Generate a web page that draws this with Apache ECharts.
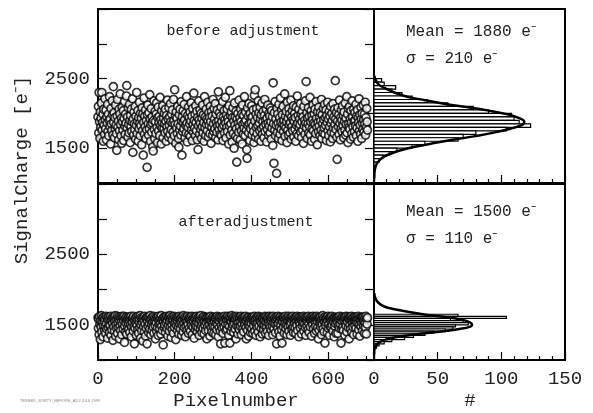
<!DOCTYPE html>
<html><head><meta charset="utf-8">
<script src="https://cdn.jsdelivr.net/npm/echarts@6/dist/echarts.min.js"></script>
<style>html,body{margin:0;padding:0;background:#fff}#c{width:593px;height:413px}</style>
</head><body><div id="c"></div>
<script>
// Signal charge per pixel (index = pixel number), before adjustment [e-]
const beforeValues = [
1950,2100,1720,2300,1880,1640,2020,1800,1930,2150,2300,1760,1870,1990,1600,2060,
1830,1700,2210,1910,1780,2050,1620,1950,1860,2130,1740,1990,1680,1900,2240,1810,
1920,1560,2070,1850,1750,2180,1980,1690,2384,1870,2010,1650,1940,1780,2120,1830,
1710,1470,1960,2200,1800,1890,1620,2060,1750,1990,2280,1840,1680,1930,1570,2090,
1880,1760,2040,1610,1930,2170,1820,1700,1990,1860,2250,2400,1790,1950,1660,2080,
1840,1720,2130,1900,1580,1970,1810,2060,1740,1880,2210,1440,1920,1690,2020,1850,
1770,2100,1630,1960,1830,2300,1710,1890,2040,1600,1940,1780,2160,1860,1680,2000,
1820,1930,1550,2080,1750,1990,1400,1870,2220,1700,1960,1810,2050,1640,1900,1760,
1225,1980,2120,1850,1690,2010,1780,2270,1920,1600,1840,2070,1730,1950,1860,1520,
1460,1900,2180,1770,1640,2030,1880,1710,1990,2150,1800,1580,1940,2090,1750,1870,
1960,1680,2230,1820,1910,1560,2040,1790,1870,2110,1650,1930,1780,2000,1850,1720,
2060,1890,1600,1970,1810,2190,1740,1920,1660,2080,1830,1950,1700,2140,1880,1770,
1990,1620,2050,1860,1730,2200,1900,1680,2340,1840,1960,1570,2020,1790,1930,1710,
2100,1850,1640,1515,1980,1760,2060,1820,1690,2170,1890,1400,1950,1740,2040,1870,
1780,2130,1910,1650,2000,1830,1720,2240,1860,1590,1970,1800,2090,1700,1940,1850,
2020,1670,1890,2150,1760,1960,1610,2070,1840,1730,2290,1900,1790,1990,1680,2110,
1870,1750,2030,1620,1940,1480,1820,2180,1910,1700,2050,1860,1770,2000,1640,1930,
1810,2120,1720,1980,1870,1600,2240,1790,1950,1680,2060,1840,1920,1750,2160,1890,
1660,2010,1830,1940,1710,2100,1880,1570,2030,1800,1960,1690,2200,1850,1740,2070,
1920,1780,2140,1650,1990,1870,1730,2050,1820,1620,2310,1900,1770,2010,1840,1700,
1960,2090,1680,1880,1790,2170,1610,1950,1830,2040,1720,1910,2230,1860,1650,1980,
1800,2060,1740,1930,1880,1560,2110,1820,2326,1690,1970,1850,2020,1760,1590,1940,
2080,1710,1890,1500,2150,1830,1950,1670,2030,1780,1300,1920,1640,2000,1860,1730,
2190,1810,1940,1620,2060,1880,1750,1990,1560,2120,1840,1700,1970,1790,2240,1870,
1680,2020,1900,1760,1480,1355,2080,1830,1960,1720,2140,1850,1610,2000,1780,1930,
1870,2110,1690,1950,1820,2050,1740,1580,2260,1890,2340,1660,1990,1800,2070,1710,
1940,1830,2180,1630,2010,1860,1750,2090,1920,1600,1980,1780,2150,1700,1880,2030,
1810,1650,1970,2200,1740,1900,1840,2060,1590,1930,1770,2120,1860,1690,2000,1820,
1960,1720,2080,1880,1630,2040,1790,1950,1540,2440,1850,1283,2010,1760,2170,1680,
1920,1830,1138,2070,1730,1990,1860,1640,2130,1800,1940,1700,2220,1870,1770,2050,
1610,1980,1850,2100,1740,1900,1820,2280,1670,1960,1790,2030,1880,1580,2160,1760,
1930,1690,2070,1840,1990,1720,1870,2190,1630,1950,1810,2040,1750,1910,2110,1660,
1880,2000,1770,1940,1600,2090,1830,1710,2250,1860,1970,1680,2060,1790,1920,1840,
2140,1730,1990,1650,1880,2030,1760,1950,1570,2100,1820,1900,1700,2180,1860,2457,
1790,2010,1640,1930,1850,2080,1720,1960,1810,2230,1690,1880,2040,1600,1970,1780,
1910,2120,1750,1860,1990,1630,2060,1840,1710,2170,1930,1800,1550,2020,1870,1740,
2090,1820,1950,1680,2010,1890,1760,2200,1640,1980,1850,1720,2070,1910,1790,2130,
1700,1940,1830,2050,1610,1970,1870,2160,1750,1920,1680,2030,1810,1960,1590,2100,
1860,1730,2000,1900,1640,2140,1790,1950,1710,2060,1840,2470,1920,1770,2010,1660,
1340,1890,2080,1810,1980,1700,2190,1860,1620,1940,1780,2050,1900,1740,2110,1830,
1970,1650,2020,1880,1760,2150,1690,1930,1840,2240,1720,1990,1580,2070,1850,1800,
2100,1770,1920,1630,2040,1870,1710,2180,1950,1810,1660,2060,1890,1740,2010,1900,
1820,2130,1680,1960,1790,2050,1600,1940,1870,2210,1750,1980,1830,1700,2090,1920,
1640,2000,1860,1770,2120,1910,1730,1990,1850,2160,1690,1940,1800,2070,1880,1760
];
// Signal charge per pixel, after adjustment [e-]
const afterValues = [
1600,1450,1580,1360,1620,1510,1290,1560,1470,1630,1400,1540,1600,1330,1490,1610,
1550,1420,1590,1480,1380,1620,1520,1440,1600,1310,1570,1460,1610,1500,1390,1580,
1490,1620,1350,1560,1430,1600,1520,1280,1590,1470,1610,1410,1550,1630,1340,1500,
1580,1450,1620,1380,1530,1600,1460,1570,1300,1610,1490,1420,1590,1540,1360,1620,
1510,1600,1440,1560,1620,1250,1480,1590,1400,1530,1610,1370,1570,1460,1600,1520,
1430,1610,1550,1390,1590,1500,1620,1330,1470,1580,1540,1600,1410,1620,1480,1230,
1560,1450,1600,1520,1350,1610,1490,1570,1430,1620,1380,1540,1590,1460,1630,1310,
1500,1600,1420,1580,1530,1270,1610,1470,1560,1400,1620,1510,1340,1590,1450,1600,
1230,1550,1610,1480,1390,1600,1520,1440,1630,1570,1360,1590,1500,1420,1610,1540,
1470,1620,1380,1560,1600,1490,1300,1580,1530,1410,1610,1460,1590,1350,1620,1510,
1560,1440,1600,1520,1370,1630,1480,1570,1420,1590,1214,1540,1610,1460,1500,1600,
1390,1580,1530,1620,1450,1560,1340,1610,1490,1600,1410,1550,1630,1470,1580,1320,
1610,1500,1430,1590,1560,1380,1620,1520,1460,1600,1540,1290,1580,1490,1610,1420,
1550,1600,1470,1370,1620,1510,1580,1440,1600,1530,1350,1610,1490,1570,1400,1630,
1520,1460,1590,1610,1330,1560,1480,1600,1420,1540,1620,1500,1380,1590,1450,1610,
1570,1410,1600,1530,1490,1620,1360,1580,1470,1550,1610,1310,1590,1500,1430,1600,
1480,1620,1540,1400,1590,1460,1610,1520,1350,1600,1570,1440,1630,1490,1560,1390,
1600,1510,1450,1580,1620,1370,1540,1490,1610,1420,1590,1530,1300,1600,1470,1560,
1420,1590,1610,1500,1340,1570,1620,1460,1550,1400,1600,1520,1480,1610,1380,1580,
1540,1470,1600,1360,1590,1520,1430,1620,1500,1570,1330,1610,1460,1550,1600,1410,
1230,1580,1490,1610,1450,1560,1380,1600,1530,1470,1620,1240,1590,1510,1420,1600,
1570,1440,1620,1500,1580,1350,1610,1480,1240,1560,1600,1410,1540,1630,1460,1590,
1500,1610,1390,1570,1520,1600,1440,1580,1300,1620,1490,1550,1600,1370,1530,1470,
1610,1430,1590,1540,1480,1620,1360,1580,1510,1600,1450,1570,1400,1610,1530,1490,
1580,1620,1460,1300,1550,1600,1420,1590,1500,1340,1610,1530,1470,1580,1390,1600,
1520,1440,1610,1570,1380,1600,1490,1560,1620,1410,1540,1590,1350,1500,1610,1460,
1590,1530,1400,1620,1480,1570,1600,1330,1550,1610,1450,1520,1590,1370,1600,1490,
1430,1600,1560,1490,1620,1380,1540,1610,1470,1580,1410,1600,1520,1350,1570,1620,
1500,1460,1590,1610,1420,1550,1600,1480,1360,1620,1530,1440,1580,1600,1510,1390,
1570,1610,1230,1500,1590,1450,1620,1520,1400,1600,1560,1340,1610,1490,1580,1430,
1240,1580,1540,1610,1470,1600,1380,1570,1520,1620,1450,1590,1500,1360,1600,1550,
1480,1620,1410,1560,1600,1500,1350,1590,1530,1610,1440,1570,1620,1470,1390,1580,
1600,1520,1460,1590,1380,1610,1550,1490,1620,1420,1570,1600,1330,1540,1610,1500,
1450,1580,1610,1370,1560,1600,1480,1530,1620,1410,1590,1510,1600,1460,1350,1570,
1610,1490,1550,1600,1430,1620,1520,1390,1580,1600,1470,1560,1610,1340,1540,1590,
1500,1620,1440,1570,1600,1380,1610,1530,1480,1590,1410,1620,1550,1460,1600,1300,
1580,1420,1600,1520,1610,1470,1560,1360,1590,1500,1630,1440,1570,1600,1400,1540,
1240,1610,1490,1580,1530,1600,1390,1560,1620,1450,1510,1590,1350,1610,1470,1600,
1550,1460,1620,1500,1570,1410,1600,1540,1330,1590,1480,1610,1520,1380,1600,1560,
1600,1530,1380,1610,1490,1580,1450,1620,1510,1570,1240,1600,1440,1550,1610,1470,
1420,1590,1560,1610,1350,1600,1520,1480,1620,1400,1570,1540,1610,1460,1590,1300,
1580,1500,1610,1440,1560,1620,1390,1590,1530,1470,1600,1360,1550,1610,1490,1570,
1610,1450,1540,1600,1370,1580,1520,1620,1430,1590,1500,1340,1600,1560,1480,1610,
1530,1600,1420,1570,1610,1490,1550,1380,1600,1520,1460,1620,1370,1580,1510,1600
];
// Histograms: bin lower edges [e-] and counts
const beforeBinWidth = 50;
const beforeBinEdges = [2450,2400,2350,2300,2250,2200,2150,2100,2050,2000,1950,1900,1850,1800,1750,1700,1650,1600,1550,1500,1450,1400,1350,1300,1250];
const beforeBinCounts = [6,8,17,14,22,30,42,58,78,90,108,110,114,123,104,80,70,66,40,30,18,12,7,4,2];
const afterBinWidth = 30;
const afterBinEdges = [1620,1590,1560,1530,1500,1470,1440,1410,1380,1350,1320,1290,1260,1230,1200,1170];
const afterBinCounts = [66,104,60,70,74,64,62,56,47,40,31,24,14,8,4,2];
// Gaussian fit curves: [count, charge]
const beforeFitCounts = [0.3,1.5,4,9,16,26,40,55,73,90,104,113,118,116,107,93,78,62,46,32,21,13,7,4,2,1,0.4,0.1];
const beforeFitCharges = [2540,2470,2410,2360,2300,2240,2190,2140,2090,2040,1990,1940,1880,1830,1780,1720,1670,1620,1570,1520,1470,1420,1370,1320,1270,1220,1150,1060];
const afterFitCounts = [0.2,1,3,8,16,28,42,56,67,74,77,75,67,55,40,27,16,9,5,2.5,1,0.3,0.1];
const afterFitCharges = [1950,1880,1820,1760,1720,1680,1640,1610,1580,1545,1505,1470,1440,1410,1380,1350,1320,1290,1260,1230,1190,1140,1080];
// Axis ticks
const pixelTicks = [0,200,400,600];
const countTicks = [0,50,100,150];
const chargeTicks = [1500,2500];

const FONT = 'Liberation Mono';
const INK = '#222';

const chart = echarts.init(document.getElementById('c'), null, {renderer:'canvas'});

function pairs(xs, ys){ return xs.map((x,i)=>[x, ys[i]]); }
function bins(edges, counts, w){ return edges.map((e,i)=>[e, e+w, counts[i]]); }

function pixelAxis(gi, showLabels){
  return {gridIndex:gi, type:'value', min:0, max:720, interval:200,
    axisLine:{show:true, lineStyle:{color:'#000', width:2}},
    axisTick:{show:true, inside:true, length:8, lineStyle:{color:'#000', width:1.2}},
    minorTick:{show:true, splitNumber:4, length:4, lineStyle:{color:'#000', width:1.2}},
    splitLine:{show:false}, minorSplitLine:{show:false},
    axisLabel:{show:showLabels, fontFamily:FONT, fontSize:19, color:INK, margin:9, showMaxLabel:false,
      formatter:v=> pixelTicks.indexOf(v)>=0 ? String(v) : ''}};
}
function countAxis(gi, showLabels){
  return {gridIndex:gi, type:'value', min:0, max:150, interval:50,
    axisLine:{show:true, lineStyle:{color:'#000', width:2}},
    axisTick:{show:true, inside:true, length:8, lineStyle:{color:'#000', width:1.2}},
    minorTick:{show:true, splitNumber:5, length:4, lineStyle:{color:'#000', width:1.2}},
    splitLine:{show:false}, minorSplitLine:{show:false},
    axisLabel:{show:showLabels, fontFamily:FONT, fontSize:19, color:INK, margin:9,
      formatter:v=> countTicks.indexOf(v)>=0 ? String(v) : ''}};
}
function chargeAxis(gi, pos, showLabels){
  return {gridIndex:gi, type:'value', min:1000, max:3500, interval:500, position:pos,
    axisLine:{show:true, lineStyle:{color:'#000', width:2}},
    axisTick:{show:true, inside:true, length:9, lineStyle:{color:'#000', width:1.2}},
    splitLine:{show:false},
    axisLabel:{show:showLabels, fontFamily:FONT, fontSize:19, color:INK, margin:8,
      formatter:v=> chargeTicks.indexOf(v)>=0 ? String(v) : ''}};
}
function histItem(params, api){
  const lo = api.value(0), hi = api.value(1), n = api.value(2);
  const a = api.coord([0, hi]);
  const b = api.coord([n, lo]);
  return {type:'rect', shape:{x:a[0], y:a[1], width:b[0]-a[0], height:b[1]-a[1]},
    style:{fill:'#fff', stroke:'#000', lineWidth:1.2}};
}
const scatterStyle = {color:'#fff', borderColor:'#000', borderWidth:1.7};

function txt(x, y, text, size, align, rot){
  return {type:'text', x:x, y:y, rotation:rot||0, z:100,
    style:{text:text, font:size+'px "'+FONT+'"', fill:INK, align:align||'left', verticalAlign:'middle'}};
}

chart.setOption({
  animation:false,
  backgroundColor:'#fff',
  grid:[
    {left:98, top:9, width:276, height:174, show:true, borderColor:'#000', borderWidth:2},
    {left:98, top:184, width:276, height:176, show:true, borderColor:'#000', borderWidth:2},
    {left:374, top:9, width:191, height:174, show:true, borderColor:'#000', borderWidth:2},
    {left:374, top:184, width:191, height:176, show:true, borderColor:'#000', borderWidth:2}
  ],
  xAxis:[pixelAxis(0,false), pixelAxis(1,true), countAxis(2,false), countAxis(3,true)],
  yAxis:[chargeAxis(0,'left',true), chargeAxis(1,'left',true), chargeAxis(2,'right',false), chargeAxis(3,'right',false)],
  series:[
    {type:'scatter', xAxisIndex:0, yAxisIndex:0, symbol:'circle', symbolSize:8,
     itemStyle:scatterStyle, data:beforeValues.map((v,i)=>[i,v])},
    {type:'scatter', xAxisIndex:1, yAxisIndex:1, symbol:'circle', symbolSize:8,
     itemStyle:scatterStyle, data:afterValues.map((v,i)=>[i,v])},
    {type:'custom', xAxisIndex:2, yAxisIndex:2, renderItem:histItem, encode:{x:2, y:[0,1]},
     data:bins(beforeBinEdges, beforeBinCounts, beforeBinWidth)},
    {type:'custom', xAxisIndex:3, yAxisIndex:3, renderItem:histItem, encode:{x:2, y:[0,1]},
     data:bins(afterBinEdges, afterBinCounts, afterBinWidth)},
    {type:'line', xAxisIndex:2, yAxisIndex:2, smooth:0.4, symbol:'none', z:10,
     lineStyle:{color:'#000', width:2.5}, data:pairs(beforeFitCounts, beforeFitCharges)},
    {type:'line', xAxisIndex:3, yAxisIndex:3, smooth:0.4, symbol:'none', z:10,
     lineStyle:{color:'#000', width:2.5}, data:pairs(afterFitCounts, afterFitCharges)}
  ],
  graphic:[
    txt(243, 31, 'before adjustment', 15, 'center'),
    txt(246, 222, 'afteradjustment', 15, 'center'),
    txt(406, 32, 'Mean = 1880 e\u207B', 16, 'left'),
    txt(406, 59, '\u03C3 = 210 e\u207B', 16, 'left'),
    txt(406, 212, 'Mean = 1500 e\u207B', 16, 'left'),
    txt(406, 239, '\u03C3 = 110 e\u207B', 16, 'left'),
    txt(236, 401, 'Pixelnumber', 19, 'center'),
    txt(470, 401, '#', 19, 'center'),
    txt(22, 170, 'SignalCharge [e\u207B]', 19, 'center', Math.PI/2),
    {type:'text', x:20, y:401, z:100, style:{text:'TESBED_SORTY_BEFORE_ADJ |14.6.1999', font:'4px sans-serif', fill:'#888', verticalAlign:'middle'}}
  ]
});
</script>
</body></html>
